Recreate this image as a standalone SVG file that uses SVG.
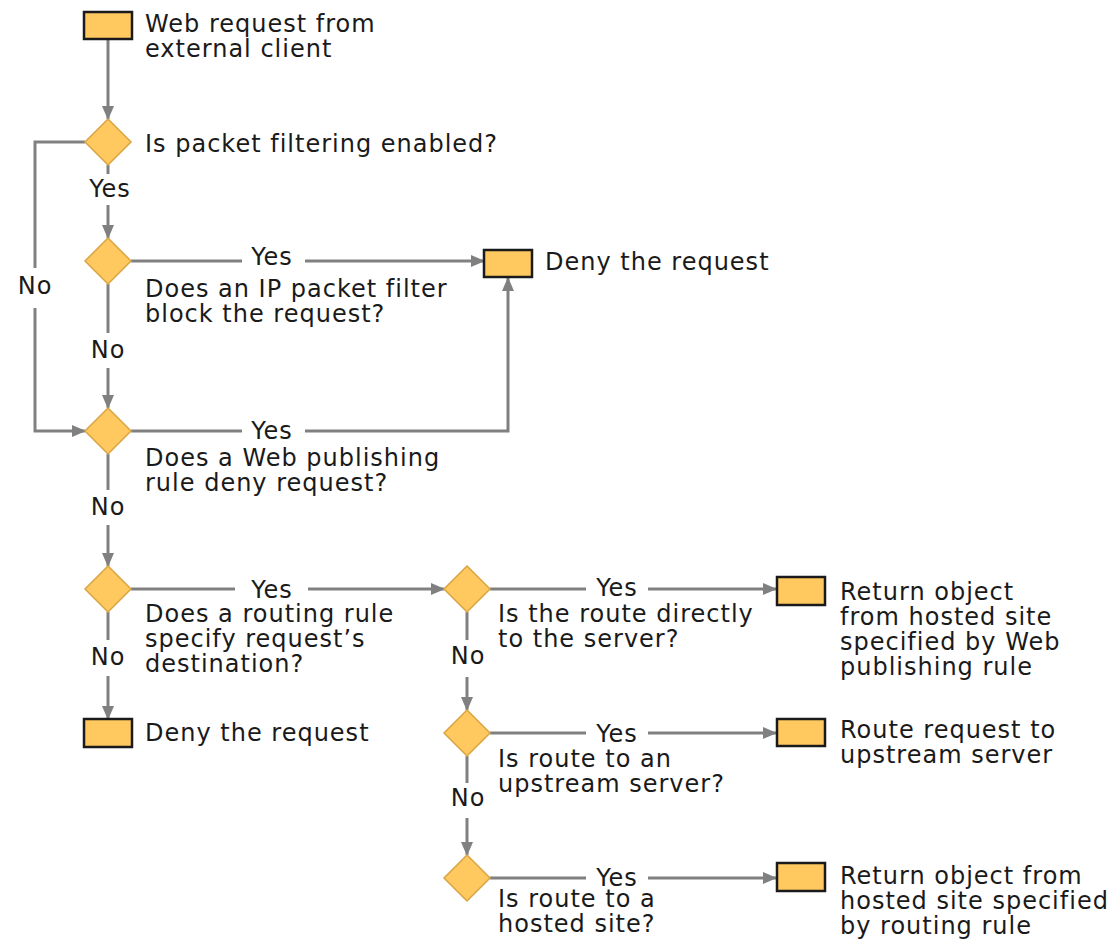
<svg xmlns="http://www.w3.org/2000/svg" width="1111" height="939" viewBox="0 0 1111 939">
<defs>
<style>
.t{font-family:"DejaVu Sans",Verdana,sans-serif;font-size:24px;fill:#1a1a1a;letter-spacing:1px}
.l{font-family:"DejaVu Sans",Verdana,sans-serif;font-size:24px;fill:#1a1a1a;letter-spacing:1px;text-anchor:middle}
.box{fill:#FFC960;stroke:#1a1a1a;stroke-width:2.5}
.dia{fill:#FFC960;stroke:#D9A441;stroke-width:1.5}
.c{fill:none;stroke:#808080;stroke-width:3}
</style>
<marker id="ah" markerUnits="userSpaceOnUse" markerWidth="14" markerHeight="14" viewBox="0 0 14 14" refX="13" refY="7" orient="auto">
<path d="M0,1 L14,7 L0,13 Z" fill="#808080"/>
</marker>
</defs>
<rect width="1111" height="939" fill="#fff"/>
<g id="connectors">
<path class="c" d="M108,39 V119" marker-end="url(#ah)"/>
<path class="c" d="M108,165 V174"/>
<text class="l" x="110" y="197">Yes</text>
<path class="c" d="M108,205 V238" marker-end="url(#ah)"/>
<path class="c" d="M85,142 H35 V268"/>
<text class="l" x="35" y="294">No</text>
<path class="c" d="M35,308 V431 H85" marker-end="url(#ah)"/>
<path class="c" d="M131,261 H242"/>
<text class="l" x="272" y="265">Yes</text>
<path class="c" d="M305,261 H484" marker-end="url(#ah)"/>
<path class="c" d="M108,284 V333"/>
<text class="l" x="108" y="358">No</text>
<path class="c" d="M108,368 V408" marker-end="url(#ah)"/>
<path class="c" d="M131,431 H242"/>
<text class="l" x="272" y="439">Yes</text>
<path class="c" d="M305,431 H508 V278" marker-end="url(#ah)"/>
<path class="c" d="M108,454 V490"/>
<text class="l" x="108" y="515">No</text>
<path class="c" d="M108,525 V566" marker-end="url(#ah)"/>
<path class="c" d="M131,589 H235"/>
<text class="l" x="272" y="598">Yes</text>
<path class="c" d="M308,589 H444" marker-end="url(#ah)"/>
<path class="c" d="M108,612 V640"/>
<text class="l" x="108" y="665">No</text>
<path class="c" d="M108,676 V719" marker-end="url(#ah)"/>
<path class="c" d="M490,589 H586"/>
<text class="l" x="617" y="596">Yes</text>
<path class="c" d="M648,589 H776" marker-end="url(#ah)"/>
<path class="c" d="M467,612 V640"/>
<text class="l" x="468" y="664">No</text>
<path class="c" d="M467,677 V710" marker-end="url(#ah)"/>
<path class="c" d="M490,733 H586"/>
<text class="l" x="617" y="742">Yes</text>
<path class="c" d="M648,733 H776" marker-end="url(#ah)"/>
<path class="c" d="M467,756 V783"/>
<text class="l" x="468" y="806">No</text>
<path class="c" d="M467,818 V855" marker-end="url(#ah)"/>
<path class="c" d="M490,878 H586"/>
<text class="l" x="617" y="886">Yes</text>
<path class="c" d="M648,878 H776" marker-end="url(#ah)"/>
</g>
<g id="start">
<rect class="box" x="84" y="12" width="48" height="27"/>
<text class="t" x="145" y="32">Web request from<tspan x="145" dy="25">external client</tspan></text>
</g>
<g id="d1">
<path class="dia" d="M108,119 L131,142 L108,165 L85,142 Z"/>
<text class="t" x="145" y="152">Is packet filtering enabled?</text>
</g>
<g id="d2">
<path class="dia" d="M108,238 L131,261 L108,284 L85,261 Z"/>
<text class="t" x="145" y="297">Does an IP packet filter<tspan x="145" dy="25">block the request?</tspan></text>
</g>
<g id="deny1">
<rect class="box" x="484" y="250" width="48" height="27"/>
<text class="t" x="545" y="270">Deny the request</text>
</g>
<g id="d3">
<path class="dia" d="M108,408 L131,431 L108,454 L85,431 Z"/>
<text class="t" x="145" y="466">Does a Web publishing<tspan x="145" dy="25">rule deny request?</tspan></text>
</g>
<g id="d4">
<path class="dia" d="M108,566 L131,589 L108,612 L85,589 Z"/>
<text class="t" x="145" y="622">Does a routing rule<tspan x="145" dy="25">specify request’s</tspan><tspan x="145" dy="25">destination?</tspan></text>
</g>
<g id="deny2">
<rect class="box" x="84" y="719" width="48" height="28"/>
<text class="t" x="145" y="741">Deny the request</text>
</g>
<g id="d5">
<path class="dia" d="M467,566 L490,589 L467,612 L444,589 Z"/>
<text class="t" x="498" y="622">Is the route directly<tspan x="498" dy="25">to the server?</tspan></text>
</g>
<g id="r1">
<rect class="box" x="777" y="577" width="48" height="28"/>
<text class="t" x="840" y="600">Return object<tspan x="840" dy="25">from hosted site</tspan><tspan x="840" dy="25">specified by Web</tspan><tspan x="840" dy="25">publishing rule</tspan></text>
</g>
<g id="d6">
<path class="dia" d="M467,710 L490,733 L467,756 L444,733 Z"/>
<text class="t" x="498" y="767">Is route to an<tspan x="498" dy="25">upstream server?</tspan></text>
</g>
<g id="r2">
<rect class="box" x="777" y="719" width="48" height="27"/>
<text class="t" x="840" y="738">Route request to<tspan x="840" dy="25">upstream server</tspan></text>
</g>
<g id="d7">
<path class="dia" d="M467,855 L490,878 L467,901 L444,878 Z"/>
<text class="t" x="498" y="907">Is route to a<tspan x="498" dy="25">hosted site?</tspan></text>
</g>
<g id="r3">
<rect class="box" x="777" y="863" width="48" height="28"/>
<text class="t" x="840" y="884">Return object from<tspan x="840" dy="25">hosted site specified</tspan><tspan x="840" dy="25">by routing rule</tspan></text>
</g>
</svg>
